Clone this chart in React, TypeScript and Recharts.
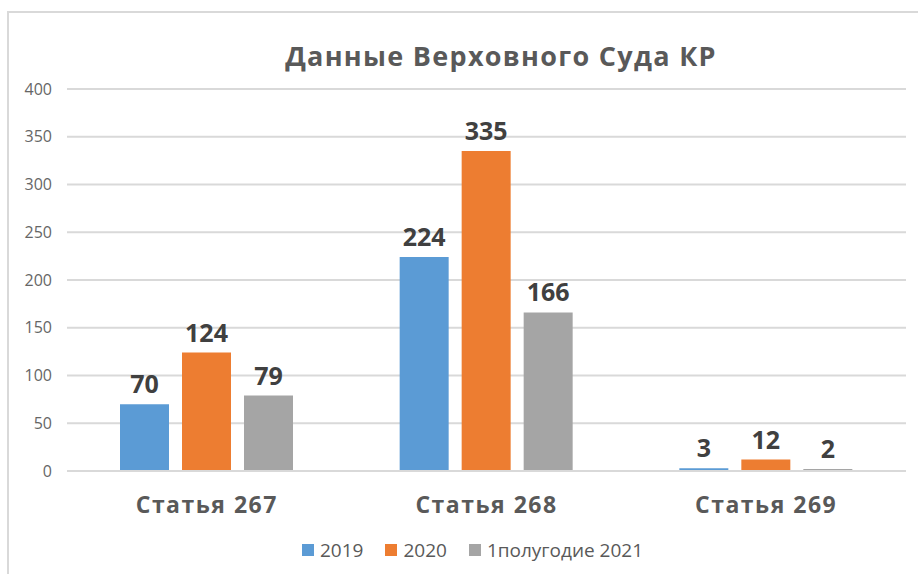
import { BarChart, Bar, XAxis, YAxis, CartesianGrid, Legend, LabelList } from "recharts";

const CATEGORIES = ["Статья 267", "Статья 268", "Статья 269"];
const Y2019 = [70, 224, 3];
const Y2020 = [124, 335, 12];
const H2021 = [79, 166, 2];
const Y_TICKS = [0, 50, 100, 150, 200, 250, 300, 350, 400];

const SERIES = [
  { key: "y2019", name: "2019", color: "#5B9BD5" },
  { key: "y2020", name: "2020", color: "#ED7D31" },
  { key: "h2021", name: "1полугодие 2021", color: "#A5A5A5" },
];

const data = CATEGORIES.map((name, i) => ({
  name,
  y2019: Y2019[i],
  y2020: Y2020[i],
  h2021: H2021[i],
}));

const FONT = "'Open Sans', sans-serif";

function LegendBox() {
  return (
    <div style={{ display: "flex", justifyContent: "center", gap: 22, paddingLeft: 39, height: 24, lineHeight: "24px", fontFamily: FONT }}>
      {SERIES.map((s) => (
        <div key={s.key} style={{ display: "flex", alignItems: "center", gap: 6 }}>
          <span style={{ width: 12, height: 12, background: s.color, display: "inline-block" }} />
          <span style={{ fontSize: 19, color: "#595959" }}>{s.name}</span>
        </div>
      ))}
    </div>
  );
}

export default function App() {
  return (
    <div style={{ position: "fixed", left: 0, top: 0, width: 918, height: 574, overflow: "hidden", background: "#fff", fontFamily: FONT }}>
      <div style={{ position: "absolute", left: 7, top: 11, width: 1200, height: 1200, border: "2px solid #d9d9d9" }} />
      <div style={{ position: "absolute", left: 0, width: 1002, top: 37, textAlign: "center", fontSize: 27, letterSpacing: 1.3, fontWeight: 700, color: "#595959" }}>
        Данные Верховного Суда КР
      </div>
      <div style={{ position: "absolute", left: 0, top: 0 }}>
        <BarChart
          width={918}
          height={574}
          data={data}
          margin={{ top: 89, right: 12, left: 0, bottom: 17 }}
          barSize={49}
          barGap={13}
        >
          <CartesianGrid vertical={false} stroke="#d9d9d9" strokeWidth={2} />
          <XAxis
            dataKey="name"
            axisLine={{ stroke: "#d9d9d9", strokeWidth: 2 }}
            tickLine={false}
            tickSize={0}
            tickMargin={26}
            height={62}
            tick={{ fontSize: 23, fontWeight: 700, fill: "#595959", fontFamily: FONT, letterSpacing: 1.5 }}
          />
          <YAxis
            width={67}
            domain={[0, 400]}
            ticks={Y_TICKS}
            axisLine={false}
            tickLine={false}
            tickSize={0}
            tickMargin={15}
            tick={{ fontSize: 16, fill: "#666666", fontFamily: FONT }}
          />
          <Legend verticalAlign="bottom" content={<LegendBox />} wrapperStyle={{ top: 538, bottom: "auto" }} />
          {SERIES.map((s) => (
            <Bar key={s.key} dataKey={s.key} name={s.name} fill={s.color} isAnimationActive={false}>
              <LabelList
                dataKey={s.key}
                position="top"
                offset={11}
                style={{ fontSize: 25, fontWeight: 700, fill: "#404040", fontFamily: FONT }}
              />
            </Bar>
          ))}
        </BarChart>
      </div>
    </div>
  );
}
